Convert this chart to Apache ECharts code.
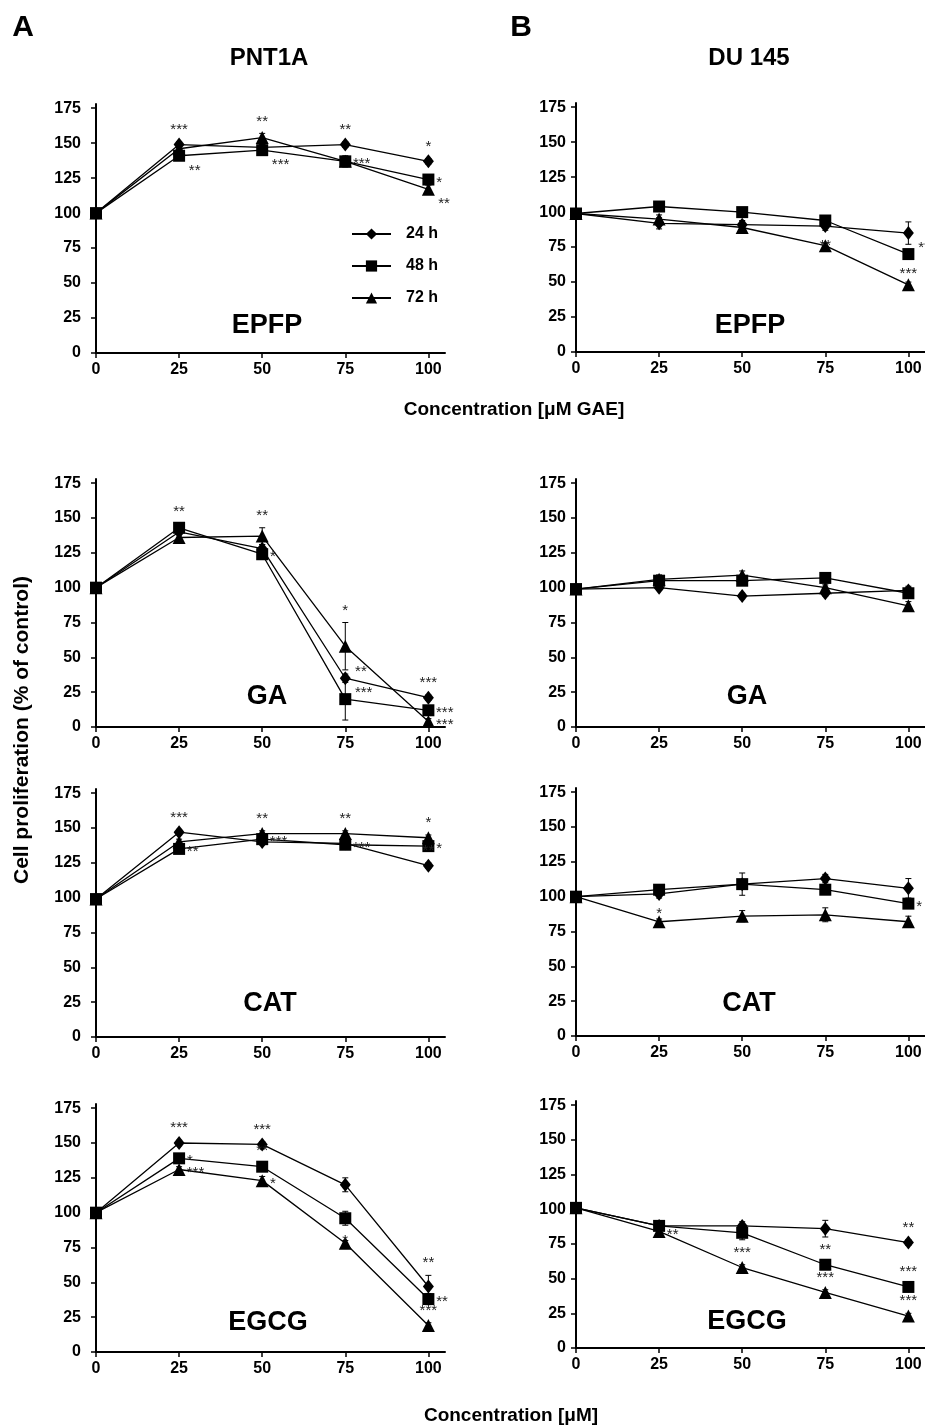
<!DOCTYPE html>
<html><head><meta charset="utf-8">
<script src="https://cdn.jsdelivr.net/npm/echarts@6/dist/echarts.min.js"></script>
<style>html,body{margin:0;padding:0;background:#fff}#c{width:925px;height:1427px}</style>
</head><body><div id="c"></div>
<script>
// ---------------- DATA ----------------
const concentrations = [0, 25, 50, 75, 100];
const seriesNames = ['24 h', '48 h', '72 h'];
const yTickValues = [0, 25, 50, 75, 100, 125, 150, 175];
const xTickValues = [0, 25, 50, 75, 100];
const cellLines = ['PNT1A', 'DU 145'];
const compounds = ['EPFP', 'GA', 'CAT', 'EGCG'];

// PNT1A EPFP
const pnt_epfp_24 = [100, 149, 147, 149, 137];
const pnt_epfp_48 = [100, 141, 145, 137, 124];
const pnt_epfp_72 = [100, 146, 154, 137, 117];
const pnt_epfp_err = [[0, 2, 2, 2, 2], [0, 2, 2, 3, 3], [0, 2, 3, 4, 3]];
const pnt_epfp_stars = [[0,1,'***','above'],[1,1,'**','belowRight'],[2,2,'**','above'],[1,2,'***','belowRight'],[0,3,'**','above'],[1,3,'***','right'],[0,4,'*','above'],[1,4,'*','right'],[2,4,'**','belowRight']];
// DU 145 EPFP
const du_epfp_24 = [99, 92, 91, 90, 85];
const du_epfp_48 = [99, 104, 100, 94, 70];
const du_epfp_72 = [99, 95, 89, 76, 48];
const du_epfp_err = [[0, 4, 3, 3, 8], [0, 2, 2, 3, 3], [0, 3, 4, 2, 2]];
const du_epfp_stars = [[0,3,'**','below'],[0,4,'**','belowRight'],[1,4,'***','below']];
// PNT1A GA
const pnt_ga_24 = [100, 140, 128, 35, 21];
const pnt_ga_48 = [100, 143, 124, 20, 12];
const pnt_ga_72 = [100, 136, 137, 58, 4];
const pnt_ga_err = [[0, 2, 3, 3, 2], [0, 3, 2, 15, 3], [0, 3, 6, 17, 2]];
const pnt_ga_stars = [[1,1,'**','above'],[2,2,'**','above'],[1,2,'*','right'],[2,3,'*','above'],[0,3,'**','aboveRight'],[1,3,'***','aboveRight'],[0,4,'***','above'],[1,4,'***','right'],[2,4,'***','right']];
// DU 145 GA
const du_ga_24 = [99, 100, 94, 96, 98];
const du_ga_48 = [99, 105, 105, 107, 96];
const du_ga_72 = [99, 106, 109, 100, 87];
const du_ga_err = [[0, 2, 2, 2, 3], [0, 4, 3, 2, 3], [0, 3, 3, 2, 3]];
const du_ga_stars = [];
// PNT1A CAT
const pnt_cat_24 = [99, 147, 140, 139, 123];
const pnt_cat_48 = [99, 135, 142, 138, 137];
const pnt_cat_72 = [99, 140, 146, 146, 143];
const pnt_cat_err = [[0, 2, 2, 2, 2], [0, 2, 2, 2, 2], [0, 2, 2, 2, 2]];
const pnt_cat_stars = [[0,1,'***','above'],[1,1,'**','right'],[2,2,'**','above'],[1,2,'***','right'],[2,3,'**','above'],[1,3,'***','right'],[2,4,'*','above'],[1,4,'*','right'],[0,4,'**','above']];
// DU 145 CAT
const du_cat_24 = [100, 102, 109, 113, 106];
const du_cat_48 = [100, 105, 109, 105, 95];
const du_cat_72 = [100, 82, 86, 87, 82];
const du_cat_err = [[0, 3, 3, 3, 7], [0, 2, 8, 3, 3], [0, 2, 4, 5, 4]];
const du_cat_stars = [[0,1,'*','below'],[1,4,'*','right']];
// PNT1A EGCG
const pnt_egcg_24 = [100, 150, 149, 120, 47];
const pnt_egcg_48 = [100, 139, 133, 96, 38];
const pnt_egcg_72 = [100, 131, 123, 78, 19];
const pnt_egcg_err = [[0, 2, 2, 5, 8], [0, 3, 3, 5, 4], [0, 2, 3, 2, 2]];
const pnt_egcg_stars = [[0,1,'***','above'],[1,1,'*','right'],[2,1,'***','right'],[0,2,'***','above'],[1,2,'**','above'],[2,2,'*','right'],[1,3,'*','below'],[0,4,'**','above'],[1,4,'**','right'],[2,4,'***','above']];
// DU 145 EGCG
const du_egcg_24 = [101, 88, 88, 86, 76];
const du_egcg_48 = [101, 88, 83, 60, 44];
const du_egcg_72 = [101, 84, 58, 40, 23];
const du_egcg_err = [[0, 2, 3, 6, 2], [0, 2, 5, 2, 2], [0, 2, 2, 2, 2]];
const du_egcg_stars = [[2,1,'**','right'],[2,2,'***','above'],[1,3,'**','above'],[2,3,'***','above'],[0,4,'**','above'],[1,4,'***','above'],[2,4,'***','above']];

// ---------------- PANELS ----------------
const panelData = [
  { name: compounds[0], vals: [pnt_epfp_24, pnt_epfp_48, pnt_epfp_72], err: pnt_epfp_err, stars: pnt_epfp_stars },
  { name: compounds[0], vals: [du_epfp_24, du_epfp_48, du_epfp_72], err: du_epfp_err, stars: du_epfp_stars },
  { name: compounds[1], vals: [pnt_ga_24, pnt_ga_48, pnt_ga_72], err: pnt_ga_err, stars: pnt_ga_stars },
  { name: compounds[1], vals: [du_ga_24, du_ga_48, du_ga_72], err: du_ga_err, stars: du_ga_stars },
  { name: compounds[2], vals: [pnt_cat_24, pnt_cat_48, pnt_cat_72], err: pnt_cat_err, stars: pnt_cat_stars },
  { name: compounds[2], vals: [du_cat_24, du_cat_48, du_cat_72], err: du_cat_err, stars: du_cat_stars },
  { name: compounds[3], vals: [pnt_egcg_24, pnt_egcg_48, pnt_egcg_72], err: pnt_egcg_err, stars: pnt_egcg_stars },
  { name: compounds[3], vals: [du_egcg_24, du_egcg_48, du_egcg_72], err: du_egcg_err, stars: du_egcg_stars }
];

const layout = [
  { left: 96,  top: 104,  h: 249, lbl: [267, 326],  lm: 15 },
  { left: 576, top: 103,  h: 249, lbl: [750, 326],  lm: 10 },
  { left: 96,  top: 479,  h: 248, lbl: [267, 697],  lm: 15 },
  { left: 576, top: 479,  h: 248, lbl: [747, 697],  lm: 10 },
  { left: 96,  top: 789,  h: 248, lbl: [270, 1004], lm: 15 },
  { left: 576, top: 788,  h: 248, lbl: [749, 1004], lm: 10 },
  { left: 96,  top: 1104, h: 248, lbl: [268, 1323], lm: 15 },
  { left: 576, top: 1101, h: 247, lbl: [747, 1322], lm: 10 }
];

const FONT = '"Liberation Sans", Arial, Helvetica, sans-serif';
const YMAX = 178, XMAX = 105;
const symbols = ['diamond', 'rect', 'triangle'];
const symbolSizes = [[11, 14], 12, 13];
const pxPerUnit = 1.395;

function starOffset(place, text, err) {
  const n = text.length;
  const e = err * pxPerUnit;
  switch (place) {
    case 'above': return [0, -e - 15];
    case 'below': return [0, e + 13];
    case 'right': return [8 + n * 2.8, 0];
    case 'belowRight': return [10 + n * 2.8, 12];
    case 'aboveRight': return [10 + n * 2.8, -9];
  }
  return [0, 0];
}

const grid = [], xAxis = [], yAxis = [], series = [], graphic = [];

layout.forEach((L, gi) => {
  grid.push({ left: L.left, top: L.top, width: 349, height: L.h, containLabel: false });
  xAxis.push({
    type: 'value', gridIndex: gi, min: 0, max: XMAX,
    axisLine: { show: true, onZero: false, lineStyle: { color: '#000', width: 2 } },
    axisTick: { show: true, length: 5, lineStyle: { color: '#000', width: 1.5 }, customValues: xTickValues },
    axisLabel: { customValues: xTickValues, color: '#000', fontFamily: FONT, fontWeight: 'bold', fontSize: 16, margin: 9 },
    splitLine: { show: false }
  });
  yAxis.push({
    type: 'value', gridIndex: gi, min: 0, max: YMAX,
    axisLine: { show: true, onZero: false, lineStyle: { color: '#000', width: 2 } },
    axisTick: { show: true, length: 5, lineStyle: { color: '#000', width: 1.5 }, customValues: yTickValues },
    axisLabel: { customValues: yTickValues, color: '#000', fontFamily: FONT, fontWeight: 'bold', fontSize: 16, margin: L.lm },
    splitLine: { show: false }
  });
  const P = panelData[gi];
  // error bars
  for (let s = 0; s < 3; s++) {
    series.push({
      type: 'custom', xAxisIndex: gi, yAxisIndex: gi, z: 1, silent: true,
      data: concentrations.map((c, i) => [c, P.vals[s][i], P.err[s][i]]),
      renderItem: function (params, api) {
        const x = api.value(0), y = api.value(1), e = api.value(2);
        if (!e) return null;
        const t = api.coord([x, y + e]), b = api.coord([x, y - e]);
        const w = 3, st = { stroke: '#000', lineWidth: 1 };
        return { type: 'group', children: [
          { type: 'line', shape: { x1: t[0], y1: t[1], x2: b[0], y2: b[1] }, style: st },
          { type: 'line', shape: { x1: t[0] - w, y1: t[1], x2: t[0] + w, y2: t[1] }, style: st },
          { type: 'line', shape: { x1: b[0] - w, y1: b[1], x2: b[0] + w, y2: b[1] }, style: st }
        ] };
      }
    });
  }
  // lines
  for (let s = 0; s < 3; s++) {
    const data = concentrations.map((c, i) => {
      const item = { value: [c, P.vals[s][i]] };
      const st = P.stars.find(a => a[0] === s && a[1] === i);
      if (st) {
        const o = starOffset(st[3], st[2], P.err[s][i]);
        item.label = {
          show: true, formatter: st[2], position: 'inside', offset: [o[0], o[1] + 3],
          color: '#222', fontFamily: FONT, fontSize: 15, fontWeight: 'normal'
        };
      }
      return item;
    });
    series.push({
      type: 'line', name: seriesNames[s], xAxisIndex: gi, yAxisIndex: gi, z: 3,
      data: data, symbol: symbols[s], symbolSize: symbolSizes[s], showAllSymbol: true,
      lineStyle: { color: '#000', width: 1.3 }, itemStyle: { color: '#000' },
      label: { show: false }, emphasis: { disabled: true }, animation: false, clip: false
    });
  }
  graphic.push({ type: 'text', x: L.lbl[0], y: L.lbl[1], style: {
    text: P.name, font: 'bold 27px ' + FONT, fill: '#000', align: 'center', verticalAlign: 'middle' } });
});

const textG = (t, x, y, size) => ({ type: 'text', x: x, y: y, style: {
  text: t, font: 'bold ' + size + 'px ' + FONT, fill: '#000', align: 'center', verticalAlign: 'middle' } });

graphic.push(textG('A', 23, 28, 30));
graphic.push(textG('B', 521, 28, 30));
graphic.push(textG(cellLines[0], 269, 58, 24));
graphic.push(textG(cellLines[1], 749, 58, 24));
graphic.push(textG('Concentration [μM GAE]', 514, 410, 19));
graphic.push(textG('Concentration [μM]', 511, 1416, 19));
graphic.push({ type: 'text', x: 22, y: 730, rotation: Math.PI / 2, style: {
  text: 'Cell proliferation (% of control)', font: 'bold 21px ' + FONT, fill: '#000', align: 'center', verticalAlign: 'middle' } });

const chart = echarts.init(document.getElementById('c'), null, { renderer: 'canvas' });
chart.setOption({
  animation: false,
  backgroundColor: '#fff',
  grid: grid, xAxis: xAxis, yAxis: yAxis, series: series, graphic: graphic,
  legend: {
    data: seriesNames, orient: 'vertical', left: 346, top: 221, itemWidth: 39, itemHeight: 14, itemGap: 16,
    selectedMode: false,
    textStyle: { color: '#000', fontFamily: FONT, fontWeight: 'bold', fontSize: 16, padding: [0, 0, 0, 10] }
  }
});
</script></body></html>
